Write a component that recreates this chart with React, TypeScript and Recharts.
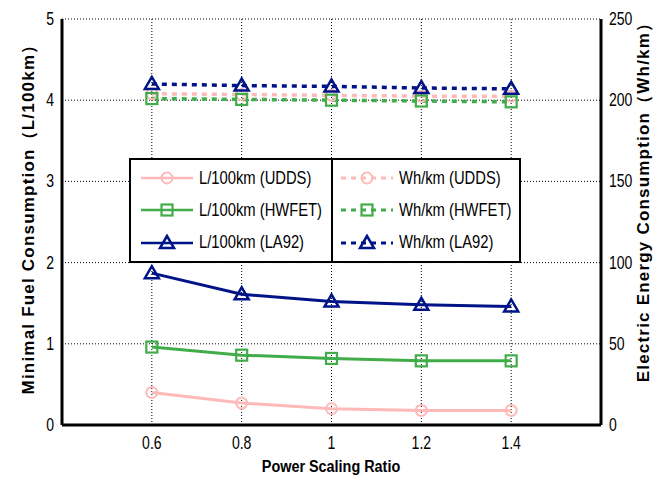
import React from 'react';
import { LineChart, Line, XAxis, YAxis, CartesianGrid } from 'recharts';

const ratios = [0.6, 0.8, 1.0, 1.2, 1.4];
const fuelUDDS = [0.4, 0.27, 0.2, 0.18, 0.18];
const fuelHWFET = [0.96, 0.86, 0.82, 0.79, 0.79];
const fuelLA92 = [1.87, 1.61, 1.52, 1.48, 1.46];
const elecUDDS = [204, 203.5, 203, 202.5, 202.5];
const elecHWFET = [201, 200.5, 200, 199.5, 199];
const elecLA92 = [210, 209, 208.5, 207.5, 207];

const xTicks = [0.6, 0.8, 1, 1.2, 1.4];
const leftTicks = [0, 1, 2, 3, 4, 5];
const rightTicks = [0, 50, 100, 150, 200, 250];

const PINK = '#ffb9b9';
const GREEN = '#41ac4a';
const NAVY = '#001488';

const data = ratios.map((r, i) => ({
  ratio: r,
  fuelUDDS: fuelUDDS[i],
  fuelHWFET: fuelHWFET[i],
  fuelLA92: fuelLA92[i],
  elecUDDS: elecUDDS[i],
  elecHWFET: elecHWFET[i],
  elecLA92: elecLA92[i],
}));

type Shape = 'circle' | 'square' | 'triangle';

const series: { key: string; name: string; color: string; shape: Shape; axis: string; dashed: boolean }[] = [
  { key: 'fuelUDDS', name: 'L/100km (UDDS)', color: PINK, shape: 'circle', axis: 'left', dashed: false },
  { key: 'fuelHWFET', name: 'L/100km (HWFET)', color: GREEN, shape: 'square', axis: 'left', dashed: false },
  { key: 'fuelLA92', name: 'L/100km (LA92)', color: NAVY, shape: 'triangle', axis: 'left', dashed: false },
  { key: 'elecUDDS', name: 'Wh/km (UDDS)', color: PINK, shape: 'circle', axis: 'right', dashed: true },
  { key: 'elecHWFET', name: 'Wh/km (HWFET)', color: GREEN, shape: 'square', axis: 'right', dashed: true },
  { key: 'elecLA92', name: 'Wh/km (LA92)', color: NAVY, shape: 'triangle', axis: 'right', dashed: true },
];

const FONT = '"Liberation Sans", Arial, sans-serif';

function Marker({ cx, cy, shape, color }: { cx: number; cy: number; shape: Shape; color: string }) {
  if (shape === 'circle') {
    return <circle cx={cx} cy={cy} r={5.5} fill="none" stroke={color} strokeWidth={2} />;
  }
  if (shape === 'square') {
    return <rect x={cx - 5.5} y={cy - 5.5} width={11} height={11} fill="none" stroke={color} strokeWidth={2.2} />;
  }
  return (
    <polygon
      points={`${cx},${cy - 7} ${cx - 7},${cy + 5} ${cx + 7},${cy + 5}`}
      fill="none"
      stroke={color}
      strokeWidth={2.5}
    />
  );
}

// narrow tick text, like the condensed Helvetica of the original
function NarrowTick({ x, y, payload, anchor, dy }: any) {
  return (
    <text
      transform={`translate(${x},${y}) scale(0.78,1)`}
      textAnchor={anchor}
      dy={dy}
      fontFamily={FONT}
      fontSize={18}
      fill="#000"
    >
      {payload.value}
    </text>
  );
}

function LegendBox() {
  const cols = [series.slice(0, 3), series.slice(3)];
  return (
    <div
      style={{
        position: 'absolute',
        left: 129,
        top: 158,
        width: 388,
        height: 101,
        border: '2px solid #000',
        background: '#fff',
        display: 'flex',
      }}
    >
      {cols.map((col, ci) => (
        <div
          key={ci}
          style={{
            width: ci === 0 ? 200 : 188,
            borderLeft: ci === 1 ? '2px solid #000' : 'none',
            display: 'flex',
            flexDirection: 'column',
            justifyContent: 'space-around',
            padding: '2px 0',
          }}
        >
          {col.map((s) => (
            <div key={s.key} style={{ display: 'flex', alignItems: 'center', height: 30, whiteSpace: 'nowrap' }}>
              <svg width={58} height={20} style={{ marginLeft: ci === 0 ? 10 : 8, flex: 'none' }}>
                <line
                  x1={0}
                  y1={10}
                  x2={52}
                  y2={10}
                  stroke={s.color}
                  strokeWidth={s.dashed ? 3 : 2.5}
                  strokeDasharray={s.dashed ? '5 5' : undefined}
                />
                <Marker cx={26} cy={10} shape={s.shape} color={s.color} />
              </svg>
              <span
                style={{
                  display: 'inline-block',
                  fontFamily: FONT,
                  fontSize: 18,
                  color: '#000',
                  transform: 'scaleX(0.82)',
                  transformOrigin: 'left center',
                }}
              >
                {s.name}
              </span>
            </div>
          ))}
        </div>
      ))}
    </div>
  );
}

const titleStyle: React.CSSProperties = {
  position: 'absolute',
  fontFamily: FONT,
  fontWeight: 'bold',
  fontSize: 17,
  color: '#000',
  whiteSpace: 'nowrap',
  letterSpacing: 1.2,
};

export default function App() {
  return (
    <div style={{ position: 'absolute', left: 0, top: 0, width: 655, height: 482, background: '#fff' }}>
      <LineChart width={655} height={482} data={data} margin={{ top: 19, right: 4, bottom: 27, left: 12 }}>
        <CartesianGrid yAxisId="left" stroke="#000" strokeDasharray="1 2" strokeWidth={1} />
        <XAxis
          dataKey="ratio"
          type="number"
          domain={[0.4, 1.6]}
          ticks={xTicks}
          height={30}
          tickLine={false}
          axisLine={{ stroke: '#000', strokeWidth: 3 }}
          tick={<NarrowTick anchor="middle" dy={16} />}
        />
        <YAxis
          yAxisId="left"
          domain={[0, 5]}
          ticks={leftTicks}
          width={50}
          tickLine={false}
          axisLine={{ stroke: '#000', strokeWidth: 3 }}
          tick={<NarrowTick anchor="end" dy={6} />}
        />
        <YAxis
          yAxisId="right"
          orientation="right"
          domain={[0, 250]}
          ticks={rightTicks}
          width={50}
          tickLine={false}
          axisLine={{ stroke: '#000', strokeWidth: 3 }}
          tick={<NarrowTick anchor="start" dy={6} />}
        />
        {series.map((s) => (
          <Line
            key={s.key}
            yAxisId={s.axis}
            dataKey={s.key}
            name={s.name}
            stroke={s.color}
            strokeWidth={s.dashed ? 3.5 : 3}
            strokeDasharray={s.dashed ? '5 5' : undefined}
            isAnimationActive={false}
            dot={(p: any) => <Marker key={`${s.key}-${p.index}`} cx={p.cx} cy={p.cy} shape={s.shape} color={s.color} />}
            activeDot={false}
          />
        ))}
      </LineChart>
      <LegendBox />
      <div style={{ ...titleStyle, fontSize: 16, letterSpacing: 0, left: 331, top: 458, transform: 'translateX(-50%) scaleX(0.9)' }}>
        Power Scaling Ratio
      </div>
      <div
        style={{
          ...titleStyle,
          left: 28,
          top: 215,
          transform: 'translate(-50%, -50%) rotate(-90deg)',
        }}
      >
        Minimal Fuel Consumption（L/100km）
      </div>
      <div
        style={{
          ...titleStyle,
          left: 643,
          top: 198,
          transform: 'translate(-50%, -50%) rotate(-90deg)',
        }}
      >
        Electric Energy Consumption（Wh/km）
      </div>
    </div>
  );
}
